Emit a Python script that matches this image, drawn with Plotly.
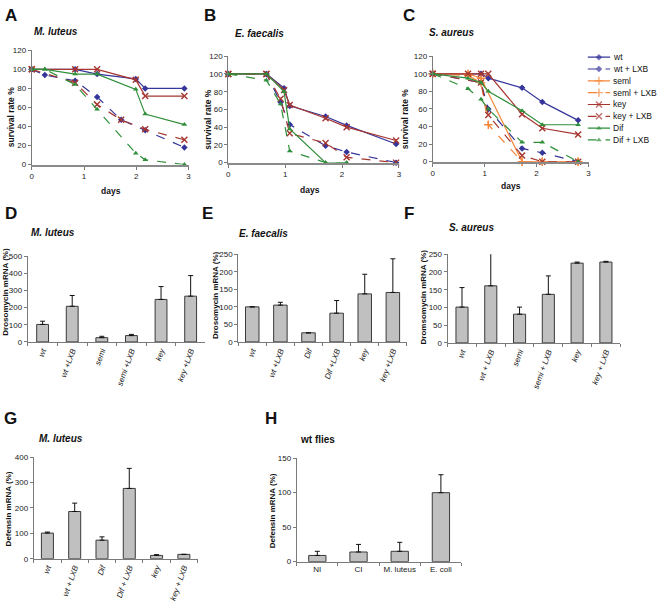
import plotly.graph_objects as go

W, H = 661, 610

# ---------------- survival data (days, survival %) ----------------
series = ["wt", "wt + LXB", "seml", "seml + LXB", "key", "key + LXB", "Dif", "Dif + LXB"]

A_days = [0, 0.25, 0.83, 1.25, 1.71, 1.99, 2.17, 2.92]
A_wt = [100, None, 100, 95, None, 90, 80, 80]
A_wt_lxb = [100, 94, 88, 71, 47, None, 36, 18]
A_key = [100, None, 100, 100, None, 89, 72, 72]
A_key_lxb = [100, None, 86, 63, 47, None, 37, 26]
A_dif = [100, 100, 95, 95, None, 79, 53, 42]
A_dif_lxb = [100, 100, 84, 58, None, 12, 5, 0]

B_days = [0, 0.67, 0.92, 0.98, 1.08, 1.71, 2.08, 2.95]
B_wt = [100, 100, None, 84, 64, 52, 42, 21]
B_wt_lxb = [100, 100, 68, None, 43, 19, 12, 0]
B_key = [100, 100, None, 82, 65, 50, 40, 25]
B_key_lxb = [100, 100, 72, None, 33, 22, 6, 0]
B_dif = [100, 100, None, 80, 38, 0, 0, None]
B_dif_lxb = [100, 93, 66, None, 13, 0, 0, None]

C_days = [0, 0.68, 0.93, 1.07, 1.72, 2.11, 2.8]
C_wt = [100, None, 100, 95, 84, 68, 47]
C_wt_lxb = [100, None, 90, 60, 15, 10, 0]
C_seml = [100, 100, 95, None, 0, 0, 0]
C_seml_lxb = [100, 98, 90, 42, 0, 0, 0]
C_key = [100, 100, 100, 100, 54, 38, 31]
C_key_lxb = [100, None, 90, 53, 7, 0, 0]
C_dif = [100, 95, 90, 80, 58, 42, 42]
C_dif_lxb = [100, 83, 71, 60, 22, 22, 0]

# ---------------- bar data ----------------
D_cats = ["wt", "wt +LXB", "semi", "semi +LXB", "key", "key +LXB"]
D_vals = [102, 208, 25, 37, 248, 267]
D_err = [19, 63, 8, 7, 75, 120]

E_cats = ["wt", "wt +LXB", "Dif", "Dif +LXB", "key", "key +LXB"]
E_vals = [100, 105, 26, 82, 137, 141]
E_err = [0, 8, 0, 36, 56, 96]

F_cats = ["wt", "wt + LXB", "semi", "semi + LXB", "key", "key + LXB"]
F_vals = [101, 161, 81, 137, 225, 228]
F_err = [55, 91, 20, 52, 3, 2]

G_cats = ["wt", "wt + LXB", "Dif", "Dif + LXB", "key", "key + LXB"]
G_vals = [101, 186, 73, 277, 13, 17]
G_err = [4, 33, 13, 79, 3, 0]

H_cats = ["NI", "CI", "M. luteus", "E. coli"]
H_vals = [9, 14, 15, 100]
H_err = [6, 11, 13, 26]

# ---------------- styles ----------------
COL = {"wt": "#35359a", "seml": "#f5873a", "key": "#a63630", "Dif": "#2f8f3a"}
SYM = {"wt": "diamond", "seml": "cross-thin", "key": "x-thin", "Dif": "triangle-up"}
FONT = "Arial, Liberation Sans, sans-serif"


def xd(l, r):
    return [l / W, r / W]


def yd(t, b):
    return [1 - b / H, 1 - t / H]


fig = go.Figure()


def style(name):
    base = name.split(" ")[0]
    dashed = "LXB" in name
    c = COL[base]
    sym = SYM[base]
    thin = sym.endswith("thin")
    marker = dict(symbol=sym, size=6 if thin else 5, color=c,
                  line=dict(color=c, width=1.4 if thin else 0))
    line = dict(color=c, width=1.2, dash="dash" if dashed else "solid")
    return marker, line


def add_surv(days, ys, name, xa, ya):
    marker, line = style(name)
    fig.add_trace(go.Scatter(x=days, y=ys, mode="lines+markers", name=name,
                             marker=marker, line=line, connectgaps=True,
                             showlegend=False, cliponaxis=False,
                             xaxis=xa, yaxis=ya))


for ys, nm in [(A_wt, "wt"), (A_wt_lxb, "wt + LXB"), (A_key, "key"), (A_key_lxb, "key + LXB"),
               (A_dif, "Dif"), (A_dif_lxb, "Dif + LXB")]:
    add_surv(A_days, ys, nm, "x", "y")
for ys, nm in [(B_wt, "wt"), (B_wt_lxb, "wt + LXB"), (B_key, "key"), (B_key_lxb, "key + LXB"),
               (B_dif, "Dif"), (B_dif_lxb, "Dif + LXB")]:
    add_surv(B_days, ys, nm, "x2", "y2")
for ys, nm in [(C_wt, "wt"), (C_wt_lxb, "wt + LXB"), (C_seml, "seml"), (C_seml_lxb, "seml + LXB"),
               (C_key, "key"), (C_key_lxb, "key + LXB"), (C_dif, "Dif"), (C_dif_lxb, "Dif + LXB")]:
    add_surv(C_days, ys, nm, "x3", "y3")

# custom compact legend on its own small axis
for i, nm in enumerate(series):
    marker, line = style(nm)
    marker = dict(marker)
    marker["size"] = [0, marker["size"], 0]
    fig.add_trace(go.Scatter(x=[0, 0.5, 1], y=[i, i, i], mode="lines+markers",
                             marker=marker, line=line, showlegend=False,
                             cliponaxis=False, xaxis="x9", yaxis="y9", hoverinfo="skip"))
    fig.add_annotation(x=1, y=i, xref="x9", yref="y9", text=nm, showarrow=False,
                       xanchor="left", yanchor="middle", xshift=1,
                       font=dict(family=FONT, size=8.5, color="#111"))


def add_bars(cats, vals, errs, xa, ya, width, italic=True):
    labels = [f"<i>{c}</i>" if italic else c for c in cats]
    fig.add_trace(go.Bar(x=labels, y=vals, width=width, xaxis=xa, yaxis=ya,
                         marker=dict(color="#c0c0c0", line=dict(color="#3a3a3a", width=1)),
                         error_y=dict(type="data", symmetric=False, array=errs,
                                      arrayminus=[0] * len(errs), color="#111",
                                      thickness=1, width=2.5),
                         showlegend=False))


add_bars(D_cats, D_vals, D_err, "x4", "y4", 0.4)
add_bars(E_cats, E_vals, E_err, "x5", "y5", 0.48)
add_bars(F_cats, F_vals, F_err, "x6", "y6", 0.42)
add_bars(G_cats, G_vals, G_err, "x7", "y7", 0.44)
add_bars(H_cats, H_vals, H_err, "x8", "y8", 0.42, italic=False)

tickfont = dict(family=FONT, size=8, color="#222")
base_axis = dict(showline=True, linecolor="#7a7a7a", linewidth=1, ticks="outside",
                 ticklen=3, tickcolor="#7a7a7a", showgrid=False, zeroline=False,
                 tickfont=tickfont, fixedrange=True)

layout_axes = {}
# survival axes
for k, (l, r, t, b) in zip(["", "2", "3"], [(30, 188, 47, 163), (228, 400, 53, 161), (434, 591, 53, 160)]):
    layout_axes["xaxis" + k] = dict(base_axis, domain=xd(l, r), range=[0, 3], dtick=1, tick0=0,
                                    anchor="y" + k, linewidth=2, linecolor="#8a8a8a")
    layout_axes["yaxis" + k] = dict(base_axis, domain=yd(t, b), range=[0, 120], dtick=20,
                                    tick0=0, anchor="x" + k)
# bar axes
bar_boxes = {"4": (26, 205, 256, 343, 500, 100, -70),
             "5": (238, 408, 254, 343, 250, 50, -70),
             "6": (449, 623, 254, 344, 250, 50, -70),
             "7": (32, 197, 460, 563, 400, 100, -70),
             "8": (297, 463, 461, 566, 150, 50, 0)}
for k, (l, r, t, b, ymax, dt, ang) in bar_boxes.items():
    layout_axes["xaxis" + k] = dict(base_axis, domain=xd(l, r), type="category",
                                    tickson="boundaries", tickangle=ang, anchor="y" + k)
    layout_axes["yaxis" + k] = dict(base_axis, domain=yd(t, b), range=[0, ymax], dtick=dt,
                                    tick0=0, anchor="x" + k)
# legend axis
layout_axes["xaxis9"] = dict(domain=xd(590, 613), range=[0, 1], visible=False, fixedrange=True,
                             anchor="y9")
layout_axes["yaxis9"] = dict(domain=yd(48, 144), range=[7.5, -0.5], visible=False,
                             fixedrange=True, anchor="x9")

fig.update_layout(width=W, height=H, margin=dict(l=0, r=0, t=0, b=0),
                  plot_bgcolor="white", paper_bgcolor="white", showlegend=False,
                  font=dict(family=FONT), **layout_axes)


def ann(x, y, text, size, **kw):
    d = dict(x=x / W, y=1 - y / H, xref="paper", yref="paper", text=text, showarrow=False,
             xanchor="center", yanchor="middle",
             font=dict(family=FONT, size=size, color="#111"))
    d.update(kw)
    fig.add_annotation(**d)


# panel letters
for x, y, t in [(9, 12, "A"), (210, 12, "B"), (410, 12, "C"), (9, 213, "D"), (207, 213, "E"),
                (410, 213, "F"), (9, 421, "G"), (271, 421, "H")]:
    ann(x, y, f"<b>{t}</b>", 17)

# panel titles
for x, y, t in [(30, 28, "<b><i>M. luteus</i></b>"), (233, 30, "<b><i>E. faecalis</i></b>"),
                (428, 29, "<b><i>S. aureus</i></b>"), (27, 232, "<b><i>M. luteus</i></b>"),
                (237, 233, "<b><i>E. faecalis</i></b>"), (448, 227, "<b><i>S. aureus</i></b>"),
                (35, 441, "<b><i>M. luteus</i></b>"), (298, 442, "<b>wt flies</b>")]:
    ann(x, y, t, 10, xanchor="left")

# axis titles
for x, y in [(9, 115), (208, 117), (406, 117)]:
    ann(x, y, "<b>survival rate %</b>", 8.5, textangle=-90)
for x, y in [(110, 190), (310, 189), (513, 185)]:
    ann(x, y, "<b>days</b>", 8.5)
ann(4, 292, "<b>Drosomycin mRNA (%)</b>", 8, textangle=-90)
ann(215, 295, "<b>Drosomycin mRNA (%)</b>", 8, textangle=-90)
ann(425, 297, "<b>Dromsomycin mRNA (%)</b>", 8, textangle=-90)
ann(6, 512, "<b>Defensin mRNA (%)</b>", 8, textangle=-90)
ann(272, 514, "<b>Defensin mRNA (%)</b>", 8, textangle=-90)

fig.write_html("out.html", config={"displayModeBar": False},
               post_script="document.body.style.margin='0';document.body.style.overflow='hidden';")
